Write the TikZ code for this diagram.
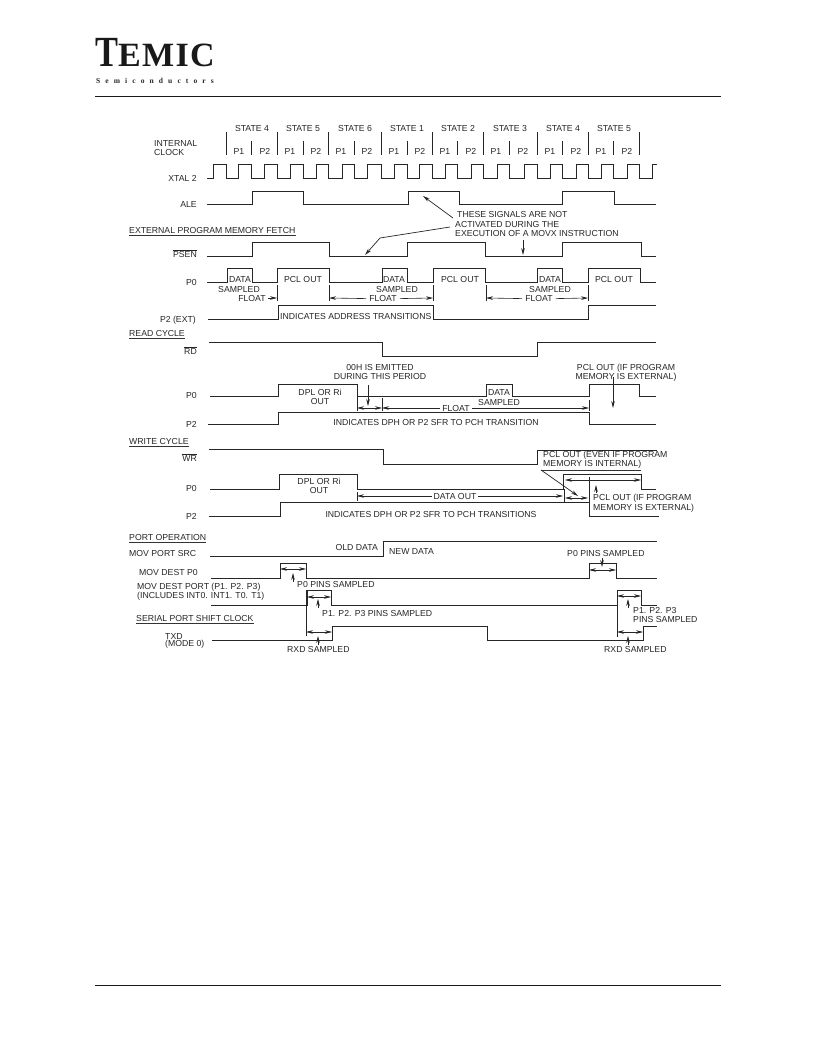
\documentclass[tikz,border=0pt]{standalone}
\usepackage{fontspec}
\usepackage{graphicx}
\setmainfont{Liberation Sans}
\newfontfamily\logofont{Liberation Serif Bold}
\newfontfamily\logospaced[LetterSpace=4]{Liberation Serif Bold}
\newfontfamily\subfont[LetterSpace=68]{Liberation Serif Bold}
\usetikzlibrary{arrows.meta}
\tikzset{
		wave/.style={line width=0.8pt, black!85},
		tick/.style={line width=0.6pt, black!85},
		span/.style={<->, line width=0.6pt, black!85},
		pointer/.style={->, line width=0.7pt, black!85},
		pagerule/.style={line width=0.8pt, black!90},
		uline/.style={line width=0.6pt, black!80},
		txt/.style={font=\fontsize{8.7}{9.2}\selectfont, text=black!85, inner sep=0pt, yshift=-0.6pt},
		lft/.style={txt, anchor=west},
		rgt/.style={txt, anchor=east},
		blank/.style={txt, fill=white, inner xsep=2pt}
	}

\begin{document}
\begin{tikzpicture}[x=1pt, y=-1pt, >={Stealth[length=7pt,width=3.6pt]}]
	\useasboundingbox (0,0) rectangle (816,1056);
	% page head
	\node[anchor=base west, inner sep=0pt, text=black!90] (logot) at (95,67)
		{\logofont\fontsize{43}{43}\selectfont\scalebox{0.8}[1]{T}};
	\node[anchor=base west, inner sep=0pt, text=black!90] (logo) at (118,67)
		{\logospaced\fontsize{34}{34}\selectfont EMIC};
	\node[anchor=west, inner sep=0pt, font=\subfont\fontsize{7.5}{9}\selectfont, text=black!85] (semi) at (96,81) {Semiconductors};
	\draw[pagerule] (95,96) -- (721,96);
	\draw[pagerule] (95,985) -- (721,985);

	% states
	\node[txt, align=left, anchor=west] (clk) at (154,147.5) {INTERNAL\\CLOCK};
	\foreach \x/\s in {252/4, 303/5, 355/6, 407/1, 458/2, 510/3, 563/4, 614/5}
		\node[txt] (st\x) at (\x,128) {STATE \s};
	\foreach \x in {226, 277, 328, 381, 432, 483, 537, 588, 639}
		\draw[tick] (\x,132) -- (\x,155);
	\foreach \x in {251, 303, 354, 407, 457, 509, 562, 613}
		\draw[tick] (\x,141) -- (\x,155);
	\foreach \x in {239, 290, 341, 394, 445, 496, 550, 601}
		\node[txt] (pa\x) at (\x,151) {P1};
	\foreach \x in {265, 316, 367, 420, 471, 523, 576, 627}
		\node[txt] (pb\x) at (\x,151) {P2};

	% clock and ale
	\node[rgt] (xtal) at (197,178) {XTAL 2};
	\draw[wave] (207,178) -| (213,164) -| (226,178) -| (238,164) -| (251,178) -| (264,164) -| (277,178) -| (290,164)
		-| (303,178) -| (316,164) -| (328,178) -| (342,164) -| (354,178) -| (367,164) -| (381,178) -| (394,164)
		-| (407,178) -| (419,164) -| (432,178) -| (445,164) -| (457,178) -| (471,164) -| (483,178) -| (497,164)
		-| (509,178) -| (524,164) -| (537,178) -| (550,164) -| (562,178) -| (576,164) -| (588,178) -| (601,164)
		-| (613,178) -| (627,164) -| (639,178) -| (652,164) -- (657,164);
	\node[rgt] (ale) at (197,204) {ALE};
	\draw[wave] (207,204) -| (252,191) -| (303,204) -| (408,191) -| (459,204) -| (562,191) -| (614,204) -- (656,204);

	% note on movx
	\node[lft] (nota) at (457,214) {THESE SIGNALS ARE NOT};
	\node[lft] (notb) at (455,224) {ACTIVATED DURING THE};
	\node[lft] (notc) at (455,233) {EXECUTION OF A MOVX INSTRUCTION};
	\draw[pointer] (453,218) -- (423,196);
	\draw[pointer] (450,227) -- (380,238) -- (365,255);
	\draw[pointer] (523,240) -- (523,255);

	% program memory fetch
	\node[lft] (fetch) at (129,230) {EXTERNAL PROGRAM MEMORY FETCH};
	\node[rgt] (psen) at (197,253) {$\overline{\mbox{PSEN}}$};
	\draw[wave] (207,256) -| (252,242) -| (329,256) -| (407,242) -| (485,256) -| (562,242) -| (641,256) -- (656,256);
	\node[rgt] (pf) at (197,282) {P0};
	\draw[wave] (207,282) -| (227,268) -| (252,282) -| (277,268) -| (329,282) -| (382,268) -| (407,282) -| (433,268)
		-| (485,282) -| (537,268) -| (562,282) -| (588,268) -| (640,282) -- (656,282);
	\foreach \x/\y in {240/279, 394/279, 550/279}
		\node[txt] (dat\x) at (\x,\y) {DATA};
	\foreach \x in {239, 397, 550}
		\node[txt] (sam\x) at (\x,289) {SAMPLED};
	\foreach \x in {303, 460, 614}
		\node[txt] (pcl\x) at (\x,279) {PCL OUT};
	\foreach \x in {277, 329, 433, 486, 588}
		\draw[tick] (\x,285) -- (\x,301);
	\node[txt] (flta) at (252,298) {FLOAT};
	\node[txt] (fltb) at (383,298) {FLOAT};
	\node[txt] (fltc) at (539,298) {FLOAT};
	\draw[->, tick] (268,298) -- (277,298);
	\draw[->, tick] (fltb.west) ++(-3,0) -- (329,298);
	\draw[->, tick] (fltb.east) ++(3,0) -- (433,298);
	\draw[->, tick] (fltc.west) ++(-3,0) -- (486,298);
	\draw[->, tick] (fltc.east) ++(3,0) -- (588,298);
	\node[rgt] (ptwo) at (196,320) {P2 (EXT)};
	\draw[wave] (208,319) -| (278,305) -| (433,319) -| (588,305) -- (656,305);
	\node[lft] (addr) at (280,316) {INDICATES ADDRESS TRANSITIONS};

	% read cycle
	\node[lft] (read) at (129,333) {READ CYCLE};
	\node[rgt] (rd) at (197,350) {$\overline{\mbox{RD}}$};
	\draw[wave] (209,342) -| (382,356) -| (537,342) -- (656,342);
	\node[txt, align=center] (emit) at (380,371.5) {00H IS EMITTED\\DURING THIS PERIOD};
	\node[rgt] (rpz) at (197,395) {P0};
	\draw[wave] (210,396) -| (278,384) -| (357,396) -| (486,384) -| (512,396) -| (589,384) -| (639,396) -- (656,396);
	\node[txt, align=center] (rdpl) at (320,396) {DPL OR Ri\\OUT};
	\node[txt] (rdat) at (499,392) {DATA};
	\node[txt] (rsam) at (499,402) {SAMPLED};
	\node[txt, align=center] (rpcl) at (626,372) {PCL OUT (IF PROGRAM\\MEMORY IS EXTERNAL)};
	\draw[pointer] (368,385) -- (368,406);
	\draw[pointer] (613,377) -- (613,408);
	\foreach \x/\y in {357/396, 382/398, 589/400}
		\draw[tick] (\x,\y) -- (\x,411);
	\draw[span] (357,408) -- (382,408);
	\coordinate (rl) at (382,408);
	\coordinate (rr) at (589,408);
	\draw[span] (rl) -- (rr);
	\node[blank] (rflt) at (456,408) {FLOAT};
	\node[rgt] (rpt) at (197,424) {P2};
	\draw[wave] (208,424) -| (278,412) -| (589,424) -- (656,424);
	\node[txt] (rind) at (436,422) {INDICATES DPH OR P2 SFR TO PCH TRANSITION};

	% write cycle
	\node[lft] (write) at (129,441) {WRITE CYCLE};
	\node[rgt] (wr) at (197,457) {$\overline{\mbox{WR}}$};
	\draw[wave] (209,449) -| (383,464) -| (537,450) -- (657,450);
	\node[lft] (weven) at (543,455) {PCL OUT (EVEN IF PROGRAM};
	\node[lft] (wint) at (543,464) {MEMORY IS INTERNAL)};
	\draw[uline] (541,470) -- (641,470);
	\node[rgt] (wpz) at (197,488) {P0};
	\draw[wave] (210,489) -| (279,474) -| (357,489) -| (563,474) -| (641,489) -- (656,489);
	\node[txt, align=center] (wdpl) at (319,485.5) {DPL OR Ri\\OUT};
	\draw[tick] (357,492) -- (357,501);
	\draw[tick] (564,489) -- (564,502);
	\coordinate (wl) at (357,496);
	\coordinate (wr2) at (563,496);
	\draw[span] (wl) -- (wr2);
	\node[blank] (wdo) at (455,496) {DATA OUT};
	\draw[span] (565,498) -- (588,498);
	\draw[span] (565,480) -- (641,480);
	\draw[pointer] (541,470) -- (578,496);
	\draw[pointer] (596,493) -- (596,485);
	\node[lft] (wext) at (593,498) {PCL OUT (IF PROGRAM};
	\node[lft] (wmem) at (593,508) {MEMORY IS EXTERNAL)};
	\node[rgt] (wpt) at (197,516) {P2};
	\draw[wave] (209,516) -| (280,502) -| (589,516) -- (659,516);
	\draw[wave] (589,477) -- (589,502);
	\node[txt] (wind) at (431,514) {INDICATES DPH OR P2 SFR TO PCH TRANSITIONS};

	% port operation
	\node[lft] (port) at (129,537) {PORT OPERATION};
	\node[lft] (src) at (129,553) {MOV PORT SRC};
	\draw[wave] (210,556) -| (383,541) -- (657,541);
	\node[rgt] (old) at (378,547) {OLD DATA};
	\node[lft] (new) at (389,551) {NEW DATA};
	\node[lft] (dst) at (139,572) {MOV DEST P0};
	\draw[wave] (211,578) -| (280,563) -| (306,578) -| (589,563) -| (616,578) -- (657,578);
	\draw[span] (280,569) -- (306,569);
	\draw[span] (589,570) -- (616,570);
	\draw[pointer] (293,582) -- (293,573);
	\draw[pointer] (602,558) -- (602,567);
	\node[lft] (pza) at (297,584) {P0 PINS SAMPLED};
	\node[lft] (pzb) at (567,553) {P0 PINS SAMPLED};
	\node[lft] (dpa) at (137,587) {MOV DEST PORT (P1. P2. P3)};
	\node[lft] (dpb) at (137,596) {(INCLUDES INT0. INT1. T0. T1)};
	\draw[wave] (211,605) -| (307,590) -| (331,605) -| (617,590) -| (641,605) -- (657,605);
	\draw[span] (307,597) -- (331,597);
	\draw[span] (617,596) -- (641,596);
	\draw[pointer] (318,608) -- (318,599);
	\draw[pointer] (628,608) -- (628,599);
	\node[lft] (ppa) at (322,613) {P1. P2. P3 PINS SAMPLED};
	\node[lft] (ppb) at (633,610) {P1. P2. P3};
	\node[lft] (ppc) at (633,619) {PINS SAMPLED};

	% serial port
	\node[lft] (serial) at (136,618) {SERIAL PORT SHIFT CLOCK};
	\node[lft] (txd) at (165,636) {TXD};
	\node[lft] (mode) at (165,644) {(MODE 0)};
	\draw[wave] (212,640) -| (332,626) -| (487,640) -| (643,626) -- (657,626);
	\draw[tick] (306,590) -- (306,636);
	\draw[tick] (617,590) -- (617,637);
	\draw[span] (306,632) -- (332,632);
	\draw[span] (617,632) -- (643,632);
	\draw[pointer] (318,645) -- (318,636);
	\draw[pointer] (628,645) -- (628,636);
	\node[lft] (rxa) at (287,649) {RXD SAMPLED};
	\node[lft] (rxb) at (604,649) {RXD SAMPLED};

	% heading rules
	\foreach \n in {fetch, read, write, port, serial}
		\draw[uline] ([yshift=-1.5pt]\n.south west) -- ([yshift=-1.5pt]\n.south east);
\end{tikzpicture}
\end{document}
